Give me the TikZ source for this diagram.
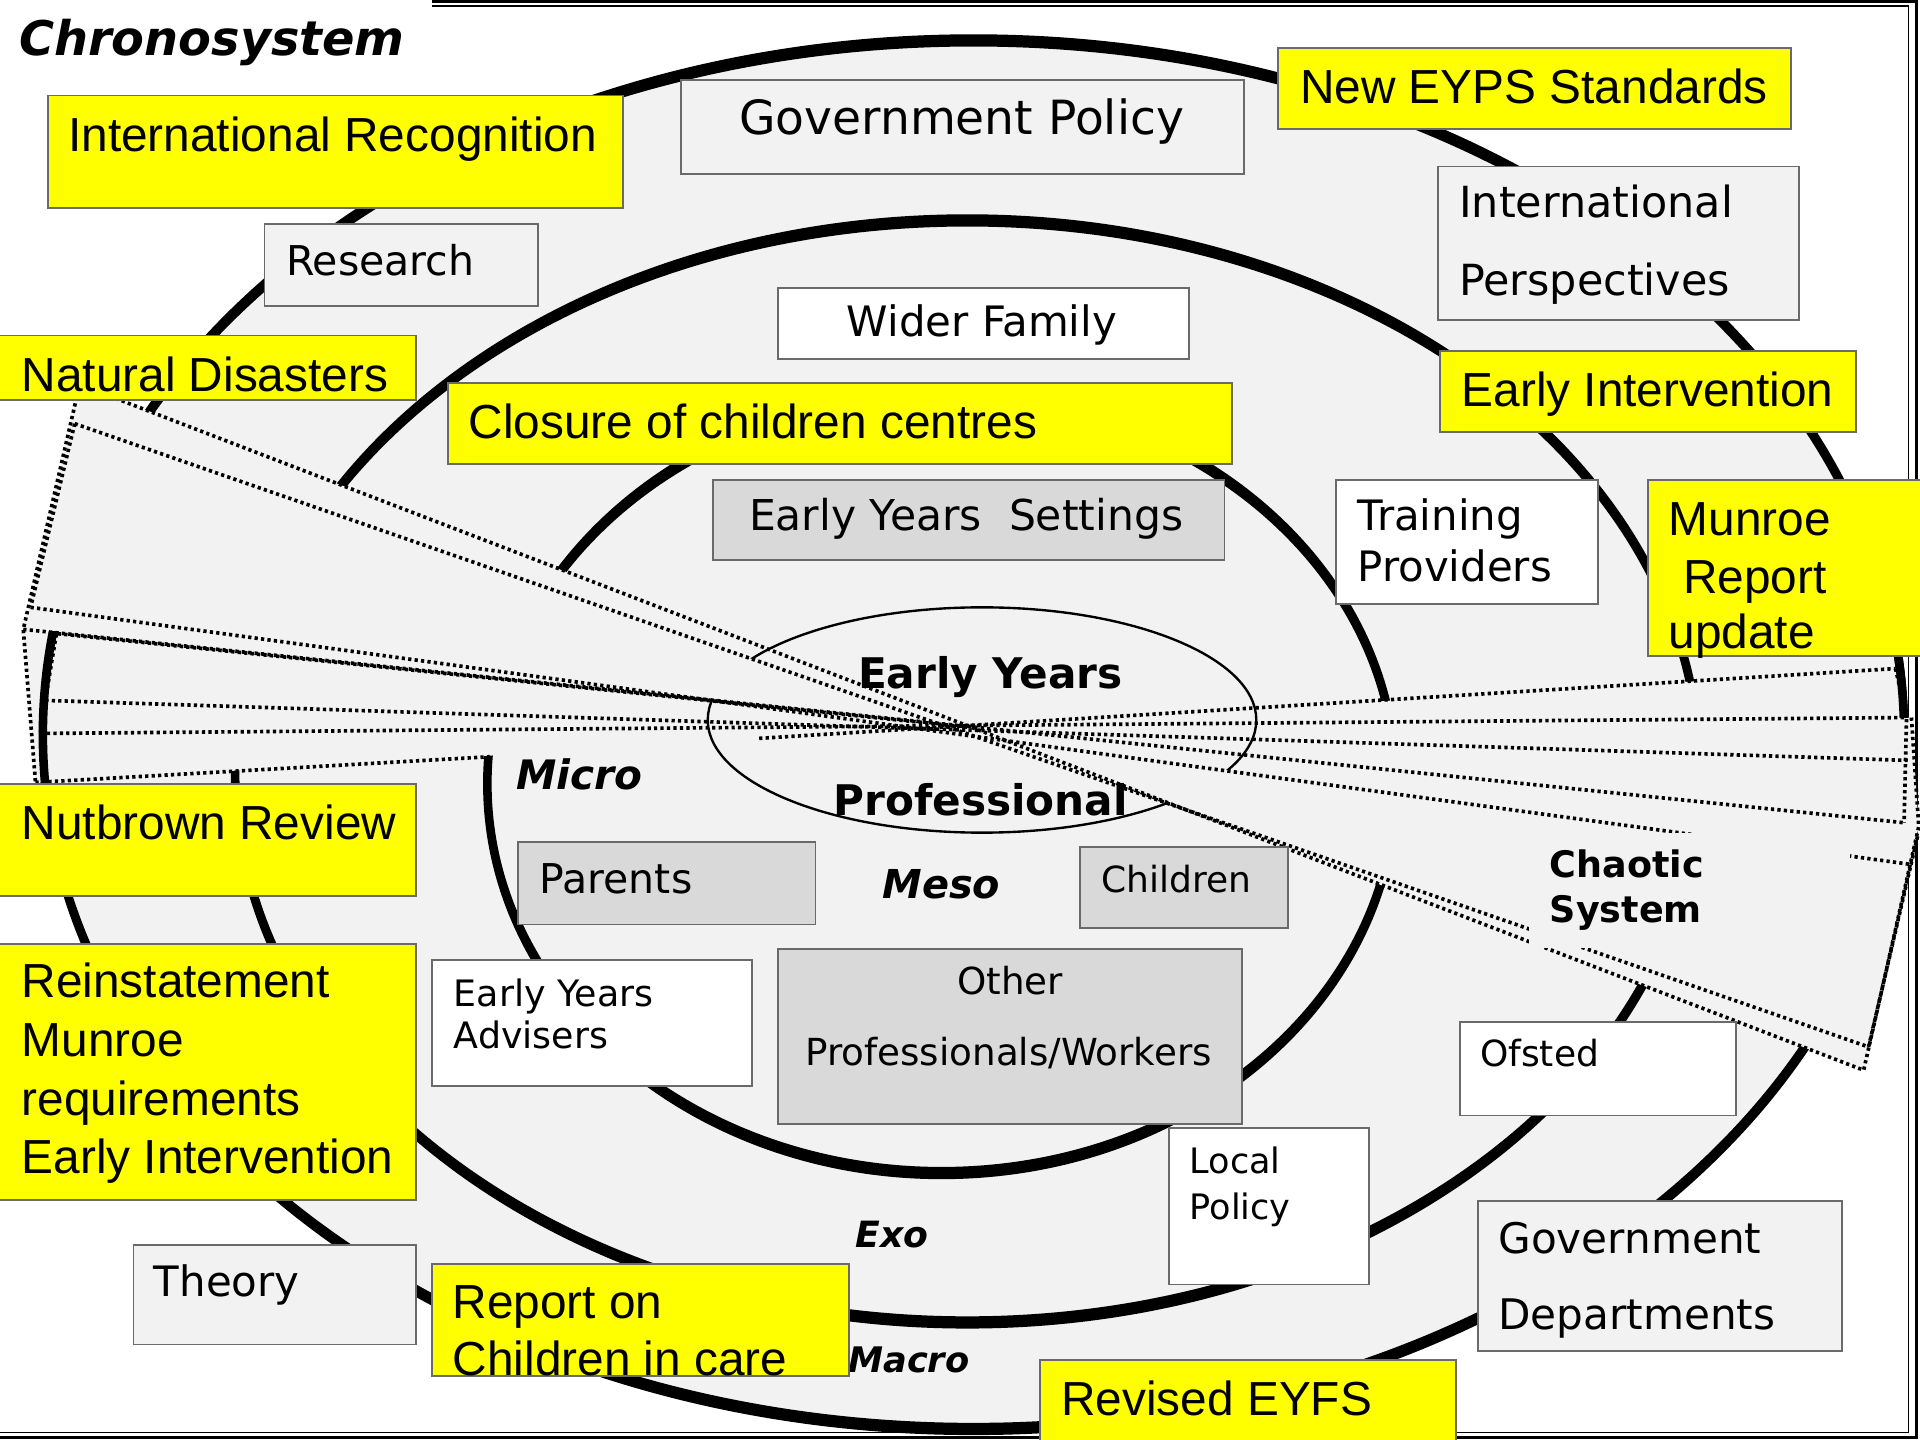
\documentclass[tikz,border=0pt]{standalone}
\usepackage{fontspec}
\newfontfamily\arialf{Liberation Sans}
\newfontfamily\verdf{DejaVu Sans}
\usetikzlibrary{fit}
\definecolor{lg}{HTML}{F2F2F2}
\definecolor{dg}{HTML}{D9D9D9}
\definecolor{yel}{HTML}{FFFF00}
\definecolor{bordc}{HTML}{6A6A6A}
\tikzset{
  bx/.style={draw=bordc, line width=0.45pt, inner sep=0pt, outer sep=0pt},
  ybox/.style={bx, fill=yel},
  lbox/.style={bx, fill=lg},
  dbox/.style={bx, fill=dg},
  wbox/.style={bx, fill=white},
  yt/.style={anchor=base west, inner sep=0pt, font=\arialf\fontsize{11.1}{13}\selectfont},
  vt/.style={anchor=base west, inner sep=0pt, font=\verdf\fontsize{#1}{#1}\selectfont},
  bi/.style={anchor=base west, inner sep=0pt, font=\verdf\bfseries\itshape\fontsize{#1}{#1}\selectfont},
  bb/.style={anchor=base west, inner sep=0pt, font=\verdf\bfseries\fontsize{#1}{#1}\selectfont},
  dotl/.style={line width=0.85pt, dash pattern=on 0.75pt off 0.75pt},
}
\begin{document}
\begin{tikzpicture}[x=0.01cm, y=-0.01cm]
\useasboundingbox (0,0) rectangle (1568,1176);
\fill[white] (0,0) rectangle (1568,1176);

% system rings
\fill[lg] (795,600) ellipse [x radius=760, y radius=567];
\fill[black, even odd rule] (795,600) ellipse [x radius=763.5, y radius=572] (795,600) ellipse [x radius=756.5, y radius=562];
\fill[black, even odd rule] (790,630) ellipse [x radius=601.5, y radius=455] (790,630) ellipse [x radius=594.5, y radius=445];
\fill[black, even odd rule] (769,640) ellipse [x radius=374.5, y radius=323] (769,640) ellipse [x radius=367.5, y radius=313];

% frame
\draw[line width=0.75pt] (353,1.5) -- (1565,1.5) -- (1565,1174) -- (0,1174);
\draw[line width=0.35pt] (353,4.8) -- (1558.5,4.8) -- (1558.5,1170) -- (0,1170);

% chaotic system fan
\coordinate (C) at (792,594);
\coordinate (l1) at (65,314);
\coordinate (l2) at (61,346);
\coordinate (l3) at (19,514);
\coordinate (l4) at (25,496);
\coordinate (l5) at (42,517);
\coordinate (l6) at (37,572);
\coordinate (l7) at (33,599);
\coordinate (l8) at (29,639);
\coordinate (l9) at (46,518);
\coordinate (r1) at (1522,874);
\coordinate (r2) at (1526,855);
\coordinate (r3) at (1556,672);
\coordinate (r4) at (1561,706);
\coordinate (r6) at (1558,621);
\coordinate (r7) at (1557,586);
\coordinate (r8) at (1548,546);
\coordinate (r3b) at (1561,586);
\coordinate (r5) at (1567,675);
\coordinate (r9) at (1566,683);
\coordinate (m1) at (400,618);
\coordinate (m2) at (620,603);
\coordinate (r2b) at (1555,672);

\fill[lg] (C) -- (l1) -- (l3) -- (l8) -- cycle;
\fill[lg] (C) -- (r8) -- (r7) -- (r3b) -- (r5) -- (r1) -- cycle;

\begin{scope}
  \clip (0,516) rectangle (70,641);
  \fill[black, even odd rule] (795,600) ellipse [x radius=763.5, y radius=572] (795,600) ellipse [x radius=756.5, y radius=562];
\end{scope}
\begin{scope}
  \clip (1520,500) rectangle (1568,586);
  \fill[black, even odd rule] (795,600) ellipse [x radius=763.5, y radius=572] (795,600) ellipse [x radius=756.5, y radius=562];
\end{scope}

% early years professional ellipse
\draw[line width=0.55pt] (802,588) ellipse [x radius=224, y radius=92];

\fill[lg] (l2) -- (792,600) -- (l4) -- cycle;
\fill[lg] (792,600) -- (r2) -- (r4) -- cycle;

\draw[dotl] (l1) -- (r1);
\draw[dotl] (l2) -- (r2);
\draw[dotl] (l3) -- (r3);
\draw[dotl] (l4) -- (r4);
\draw[dotl] (l5) -- (C);
\draw[dotl] (l6) -- (r6);
\draw[dotl] (l7) -- (r7);
\draw[dotl] (l8) -- (m1);
\draw[dotl] (m2) -- (r8);
\draw[dotl] (l1) -- (l3) -- (l8);
\draw[dotl] (l2) -- (l4);
\draw[dotl] (l5) -- (l7);
\draw[dotl] (l9) -- (l6);
\draw[dotl] (r8) -- (r7) -- (r2b);
\draw[dotl] (r3b) -- (r5) -- (r1);
\draw[dotl] (r9) -- (r2);

\node[fill=lg, inner sep=0pt, fit={(1249,680) (1511,774)}] (chaosbg) {};
\node[bb=8.48] (chaos1) at (1265,717) {Chaotic};
\node[bb=8.48] (chaos2) at (1265,753) {System};

% labels
\node[bi=11.1] (chrono) at (15,45) {Chronosystem};
\node[bb=9.8] (ey) at (700,562) {Early Years};
\node[bb=9.8] (prof) at (680,665.6) {Professional};
\node[bi=9.42] (micro) at (421,645) {Micro};
\node[bi=9.25] (meso) at (720,734) {Meso};
\node[bi=8.4] (exo) at (698,1019) {Exo};
\node[bi=8.18] (macro) at (692,1120.6) {Macro};

% yellow boxes
\node[ybox, fit={(39,78) (509,170)}] (yir) {};
\node[yt] (yirt) at (55,124) {International Recognition};
\node[ybox, fit={(1044,39) (1463,105)}] (ynew) {};
\node[yt] (ynewt) at (1061,84.5) {New EYPS Standards};
\node[ybox, fit={(-2,274) (340,327)}] (ynd) {};
\node[yt] (yndt) at (17,320) {Natural Disasters};
\node[ybox, fit={(366,313) (1006,379)}] (ycl) {};
\node[yt] (yclt) at (382,358) {Closure of children centres};
\node[ybox, fit={(1176,287) (1516,353)}] (yei) {};
\node[yt] (yeit) at (1193,332) {Early Intervention};
\node[ybox, fit={(1346,392) (1570,536)}] (ymu) {};
\node[yt] (ymu1) at (1362,437) {Munroe};
\node[yt] (ymu2) at (1374,485) {Report};
\node[yt] (ymu3) at (1362,529.5) {update};
\node[ybox, fit={(-2,640) (340,732)}] (ynb) {};
\node[yt] (ynbt) at (17,686) {Nutbrown Review};
\node[ybox, fit={(-2,771) (340,980)}] (yre) {};
\node[yt] (yre1) at (17,815) {Reinstatement};
\node[yt] (yre2) at (17,863) {Munroe};
\node[yt] (yre3) at (17,911) {requirements};
\node[yt] (yre4) at (17,958) {Early Intervention};
\node[ybox, fit={(353,1032) (693,1124)}] (yrc) {};
\node[yt] (yrc1) at (369,1077) {Report on};
\node[yt] (yrc2) at (369,1123) {Children in care};
\node[ybox, fit={(849,1111) (1189,1178)}] (yrv) {};
\node[yt] (yrvt) at (866,1156) {Revised EYFS};

% light grey boxes
\node[lbox, fit={(556,65) (1016,142)}] (ggp) {};
\node[vt=10.95] (ggpt) at (603,110) {Government Policy};
\node[lbox, fit={(1174,136) (1469,261)}] (gip) {};
\node[vt=9.96] (gip1) at (1191,178) {International};
\node[vt=9.96] (gip2) at (1191,241) {Perspectives};
\node[lbox, fit={(216,183) (439,250)}] (grs) {};
\node[vt=9.53] (grst) at (233,224.6) {Research};
\node[lbox, fit={(109,1017) (340,1098)}] (gth) {};
\node[vt=9.73] (gtht) at (125,1059) {Theory};
\node[lbox, fit={(1207,981) (1504,1103)}] (ggd) {};
\node[vt=9.79] (ggd1) at (1223,1023.6) {Government};
\node[vt=9.79] (ggd2) at (1223,1086) {Departments};

% darker grey boxes
\node[dbox, fit={(582,392) (1000,457)}] (deys) {};
\node[vt=9.87] (deyst) at (611,433) {Early Years~ Settings};
\node[dbox, fit={(423,688) (666,755)}] (dpa) {};
\node[vt=9.53] (dpat) at (440,730) {Parents};
\node[dbox, fit={(882,692) (1052,758)}] (dch) {};
\node[vt=8.37] (dcht) at (899,729) {Children};
\node[dbox, fit={(635,775) (1014,918)}] (dop) {};
\node[vt=8.65, anchor=base] (dop1) at (825,812) {Other};
\node[vt=8.65] (dop2) at (657,870) {Professionals/Workers};

% white boxes
\node[wbox, fit={(635,235) (971,293)}] (wwf) {};
\node[vt=9.73] (wwft) at (691,275) {Wider Family};
\node[wbox, fit={(1091,392) (1305,493)}] (wtp) {};
\node[vt=9.73] (wtp1) at (1108,433) {Training};
\node[vt=9.73] (wtp2) at (1108,474.5) {Providers};
\node[wbox, fit={(353,784) (614,887)}] (wea) {};
\node[vt=8.45] (wea1) at (370,822) {Early Years};
\node[vt=8.45] (wea2) at (370,856) {Advisers};
\node[wbox, fit={(1192,835) (1418,911)}] (wof) {};
\node[vt=8.37] (woft) at (1208,871) {Ofsted};
\node[wbox, fit={(955,921) (1118,1049)}] (wlp) {};
\node[vt=8.14] (wlp1) at (971,958) {Local};
\node[vt=8.14] (wlp2) at (971,995.6) {Policy};
\end{tikzpicture}
\end{document}
